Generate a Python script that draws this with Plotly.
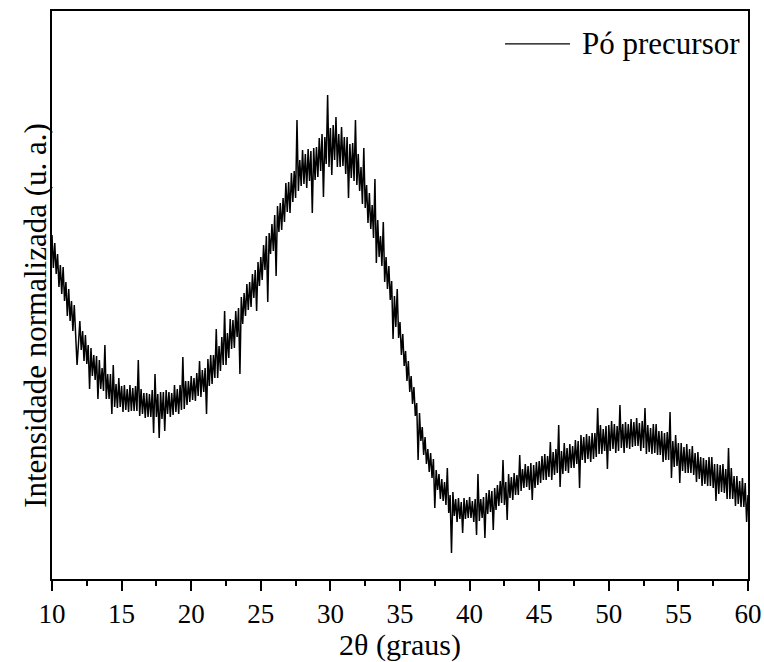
import plotly.graph_objects as go

# 2θ start (degrees) of each block of ten 0.1° steps
block_starts = list(range(10, 60))

# Intensity (arbitrary units), rows of 0.1° steps
I_10_19 = [
    344, 311, 336, 305, 325, 292, 314, 285, 312, 278,
    297, 263, 290, 258, 278, 248, 274, 242, 214, 235,
    258, 229, 248, 218, 244, 215, 234, 190, 231, 203,
    224, 199, 223, 180, 219, 190, 211, 188, 234, 180,
    205, 180, 205, 165, 214, 172, 195, 171, 201, 172,
    193, 167, 194, 169, 190, 167, 194, 168, 191, 168,
    193, 168, 219, 163, 190, 165, 186, 161, 186, 162,
    185, 162, 189, 146, 205, 162, 185, 141, 187, 160,
    187, 148, 189, 165, 187, 162, 186, 164, 194, 167,
    190, 165, 194, 169, 222, 170, 198, 174, 198, 177,
]
I_20_29 = [
    203, 179, 201, 178, 206, 183, 218, 182, 209, 187,
    211, 165, 220, 193, 224, 195, 224, 201, 250, 201,
    233, 208, 242, 214, 268, 214, 246, 221, 260, 230,
    259, 231, 268, 242, 271, 205, 282, 255, 286, 263,
    295, 269, 297, 272, 305, 281, 309, 268, 317, 293,
    322, 299, 334, 309, 343, 277, 346, 325, 355, 328,
    364, 303, 373, 347, 376, 349, 381, 357, 396, 367,
    397, 366, 406, 377, 408, 381, 459, 388, 419, 393,
    429, 395, 425, 391, 430, 398, 428, 366, 431, 399,
    432, 402, 441, 408, 445, 382, 442, 415, 484, 412,
]
I_30_39 = [
    451, 404, 454, 419, 462, 412, 445, 412, 452, 413,
    442, 405, 442, 381, 435, 401, 436, 398, 459, 394,
    425, 388, 412, 375, 431, 371, 394, 356, 386, 350,
    374, 341, 400, 316, 359, 322, 343, 313, 357, 297,
    322, 290, 313, 279, 298, 240, 283, 252, 290, 241,
    257, 224, 245, 213, 228, 198, 218, 187, 203, 175,
    192, 163, 176, 119, 166, 138, 152, 124, 142, 115,
    130, 107, 126, 101, 120, 71, 109, 89, 105, 80,
    100, 78, 97, 74, 111, 66, 84, 26, 87, 63,
    80, 57, 81, 60, 77, 46, 81, 60, 79, 61,
]
I_40_49 = [
    82, 61, 78, 57, 80, 44, 105, 58, 80, 61,
    82, 41, 86, 65, 89, 67, 88, 49, 91, 69,
    94, 73, 98, 76, 119, 74, 97, 59, 105, 81,
    102, 79, 106, 84, 104, 84, 124, 88, 110, 91,
    115, 92, 113, 89, 116, 79, 114, 91, 117, 94,
    118, 96, 123, 99, 125, 99, 123, 102, 137, 99,
    127, 104, 130, 106, 154, 92, 128, 105, 136, 108,
    131, 106, 135, 111, 133, 111, 139, 115, 138, 91,
    144, 119, 142, 116, 145, 120, 143, 117, 146, 120,
    146, 122, 171, 125, 154, 125, 150, 128, 153, 110,
]
I_50_60 = [
    154, 128, 158, 130, 155, 126, 153, 128, 174, 131,
    155, 126, 157, 131, 155, 130, 160, 132, 157, 133,
    161, 133, 156, 128, 158, 131, 171, 125, 154, 127,
    151, 125, 155, 126, 155, 124, 148, 124, 148, 117,
    146, 119, 147, 119, 167, 101, 138, 112, 144, 113,
    136, 96, 136, 108, 132, 106, 135, 106, 130, 106,
    133, 104, 126, 97, 127, 100, 122, 93, 121, 95,
    119, 93, 122, 93, 122, 91, 115, 78, 115, 85,
    114, 87, 115, 86, 110, 80, 131, 80, 111, 80,
    103, 73, 103, 75, 98, 72, 101, 72, 96, 57,
    84,
]

x_ticks = [10, 15, 20, 25, 30, 35, 40, 45, 50, 55, 60]
series_name = "Pó precursor"

intensity = I_10_19 + I_20_29 + I_30_39 + I_40_49 + I_50_60
two_theta = [round(d + i / 10, 1) for d in block_starts for i in range(10)] + [60.0]

FONT = "Liberation Serif, Times New Roman, serif"

fig = go.Figure()
fig.add_trace(go.Scatter(
    x=two_theta, y=intensity, mode="lines", name=series_name,
    line=dict(color="black", width=1.5), showlegend=False,
))

# legend drawn as a sample line plus label (matches the long legend line)
fig.add_shape(type="line", xref="paper", yref="paper",
              x0=0.6509, x1=0.7443, y0=0.942, y1=0.942,
              line=dict(color="black", width=1.2))

fig.update_layout(
    width=764, height=662,
    margin=dict(l=52, r=16, t=11, b=83),
    paper_bgcolor="white", plot_bgcolor="white",
    font=dict(family=FONT, size=27, color="black"),
    showlegend=False,
    xaxis=dict(
        range=[10, 60], tickvals=x_ticks, ticks="outside", ticklen=10,
        tickwidth=2, tickcolor="black", showline=True, linewidth=2,
        linecolor="black", mirror=True, showgrid=False, zeroline=False,
        automargin=False,
        minor=dict(dtick=2.5, ticks="outside", ticklen=5, tickwidth=2,
                   tickcolor="black", showgrid=False),
        title=dict(text="2θ (graus)", font=dict(family=FONT, size=30), standoff=0),
        tickfont=dict(family=FONT, size=27),
    ),
    yaxis=dict(
        range=[0, 568], showticklabels=False, ticks="", showline=True,
        linewidth=2, linecolor="black", mirror=True, showgrid=False,
        zeroline=False, automargin=False,
    ),
    annotations=[
        dict(text="Intensidade normalizada (u. a.)", textangle=-90,
             xref="paper", yref="paper", x=-0.023, y=0.465,
             xanchor="center", yanchor="middle", showarrow=False,
             font=dict(family=FONT, size=31)),
        dict(text=series_name, xref="paper", yref="paper",
             x=0.7586, y=0.942, xanchor="left", yanchor="middle",
             showarrow=False, font=dict(family=FONT, size=31)),
    ],
)

fig.write_html("out.html")
